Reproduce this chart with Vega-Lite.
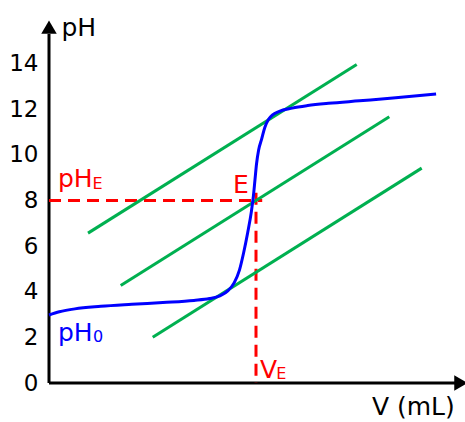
{
  "$schema": "https://vega.github.io/schema/vega-lite/v6.json",
  "autosize": {"type": "none"},
  "padding": {"left": 49, "top": 18, "right": 2, "bottom": 39},
  "width": 414,
  "height": 365,
  "background": "white",
  "config": {"view": {"stroke": null}, "font": "DejaVu Sans"},
  "datasets": {
    "curve": [
      {"v": 0, "ph": 2.98}, {"v": 1, "ph": 3.12}, {"v": 2.5, "ph": 3.25}, {"v": 5, "ph": 3.36},
      {"v": 8, "ph": 3.45}, {"v": 11, "ph": 3.53}, {"v": 14, "ph": 3.62}, {"v": 15.5, "ph": 3.7},
      {"v": 16.5, "ph": 3.82}, {"v": 17.3, "ph": 4.05}, {"v": 17.9, "ph": 4.4}, {"v": 18.4, "ph": 4.95},
      {"v": 18.8, "ph": 5.7}, {"v": 19.2, "ph": 6.6}, {"v": 19.55, "ph": 7.5}, {"v": 19.75, "ph": 8.2},
      {"v": 19.9, "ph": 8.9}, {"v": 20.05, "ph": 9.6}, {"v": 20.25, "ph": 10.2}, {"v": 20.55, "ph": 10.7},
      {"v": 20.85, "ph": 11.2}, {"v": 21.2, "ph": 11.55}, {"v": 21.6, "ph": 11.75}, {"v": 22.2, "ph": 11.9},
      {"v": 23.5, "ph": 12.05}, {"v": 25, "ph": 12.16}, {"v": 27, "ph": 12.26}, {"v": 30, "ph": 12.37},
      {"v": 33.5, "ph": 12.5}, {"v": 37.4, "ph": 12.67}
    ],
    "tangents": [
      {"id": "upper", "v": 3.77, "ph": 6.57}, {"id": "upper", "v": 29.73, "ph": 13.96},
      {"id": "middle", "v": 6.93, "ph": 4.27}, {"id": "middle", "v": 32.88, "ph": 11.67},
      {"id": "lower", "v": 10.02, "ph": 2.01}, {"id": "lower", "v": 36.01, "ph": 9.42}
    ],
    "guides": [
      {"id": "phE", "v": 0, "ph": 8}, {"id": "phE", "v": 20.6, "ph": 8},
      {"id": "vE", "v": 20, "ph": 8.34}, {"id": "vE", "v": 20, "ph": 0}
    ],
    "axes": [
      {"v": 0, "ph": 0, "v2": 0, "ph2": 15.3},
      {"v": 0, "ph": 0, "v2": 39.3, "ph2": 0}
    ],
    "ticks": [{"ph": 2}, {"ph": 4}, {"ph": 6}, {"ph": 8}, {"ph": 10}, {"ph": 12}, {"ph": 14}],
    "arrows": [
      {"axis": "y", "v": 0, "ph": 15.6},
      {"axis": "x", "v": 39.8, "ph": 0}
    ],
    "labels": [
      {"text": "pH", "v": 1.2, "ph": 15.2, "g": "axis", "r": "main"},
      {"text": "V (mL)", "v": 31.2, "ph": -1.4, "g": "axis", "r": "main"},
      {"text": "pH", "v": 0.87, "ph": 8.6, "g": "eq", "r": "main"},
      {"text": "E", "v": 4.2, "ph": 8.51, "g": "eq", "r": "sub"},
      {"text": "E", "v": 17.78, "ph": 8.34, "g": "eq", "r": "main"},
      {"text": "V", "v": 20.39, "ph": 0.22, "g": "eq", "r": "main"},
      {"text": "E", "v": 21.95, "ph": 0.18, "g": "eq", "r": "sub"},
      {"text": "pH", "v": 0.87, "ph": 1.84, "g": "init", "r": "main"},
      {"text": "0", "v": 4.25, "ph": 1.8, "g": "init", "r": "sub"}
    ]
  },
  "encoding": {
    "x": {"field": "v", "type": "quantitative", "scale": {"domain": [0, 40], "nice": false, "zero": false}, "axis": null},
    "y": {"field": "ph", "type": "quantitative", "scale": {"domain": [0, 16], "nice": false, "zero": false},
      "axis": {"values": [0, 2, 4, 6, 8, 10, 12, 14], "domain": false, "ticks": false, "grid": false, "title": null,
        "labelPadding": 11, "labelFontSize": 23, "labelColor": "black", "labelFont": "DejaVu Sans"}}
  },
  "layer": [
    {"data": {"name": "axes"}, "mark": {"type": "rule", "color": "black", "strokeWidth": 3},
      "encoding": {"x2": {"field": "v2"}, "y2": {"field": "ph2"}}},
    {"data": {"name": "ticks"}, "mark": {"type": "tick", "orient": "horizontal", "color": "black", "size": 16, "thickness": 3},
      "encoding": {"x": {"datum": 0, "type": "quantitative"}}},
    {"data": {"name": "arrows"}, "transform": [{"filter": "datum.axis === 'y'"}],
      "mark": {"type": "point", "shape": "triangle-up", "filled": true, "color": "black", "size": 240, "opacity": 1}},
    {"data": {"name": "arrows"}, "transform": [{"filter": "datum.axis === 'x'"}],
      "mark": {"type": "point", "shape": "triangle-right", "filled": true, "color": "black", "size": 240, "opacity": 1}},
    {"data": {"name": "guides"}, "mark": {"type": "line", "color": "#ff0000", "strokeWidth": 3, "strokeDash": [12, 7]},
      "encoding": {"detail": {"field": "id"}}},
    {"data": {"name": "tangents"}, "mark": {"type": "line", "color": "#00b050", "strokeWidth": 3},
      "encoding": {"detail": {"field": "id"}}},
    {"data": {"name": "curve"}, "mark": {"type": "line", "color": "#0000ff", "strokeWidth": 3, "interpolate": "monotone"},
      "encoding": {}},
    {"data": {"name": "labels"}, "transform": [{"filter": "datum.r === 'main'"}],
      "mark": {"type": "text", "align": "left", "baseline": "alphabetic", "fontSize": 25},
      "encoding": {"text": {"field": "text"},
        "color": {"field": "g", "type": "nominal", "scale": {"domain": ["axis", "eq", "init"], "range": ["#000000", "#ff0000", "#0000ff"]}, "legend": null}}},
    {"data": {"name": "labels"}, "transform": [{"filter": "datum.r === 'sub'"}],
      "mark": {"type": "text", "align": "left", "baseline": "alphabetic", "fontSize": 16},
      "encoding": {"text": {"field": "text"},
        "color": {"field": "g", "type": "nominal", "scale": {"domain": ["axis", "eq", "init"], "range": ["#000000", "#ff0000", "#0000ff"]}, "legend": null}}}
  ]
}
